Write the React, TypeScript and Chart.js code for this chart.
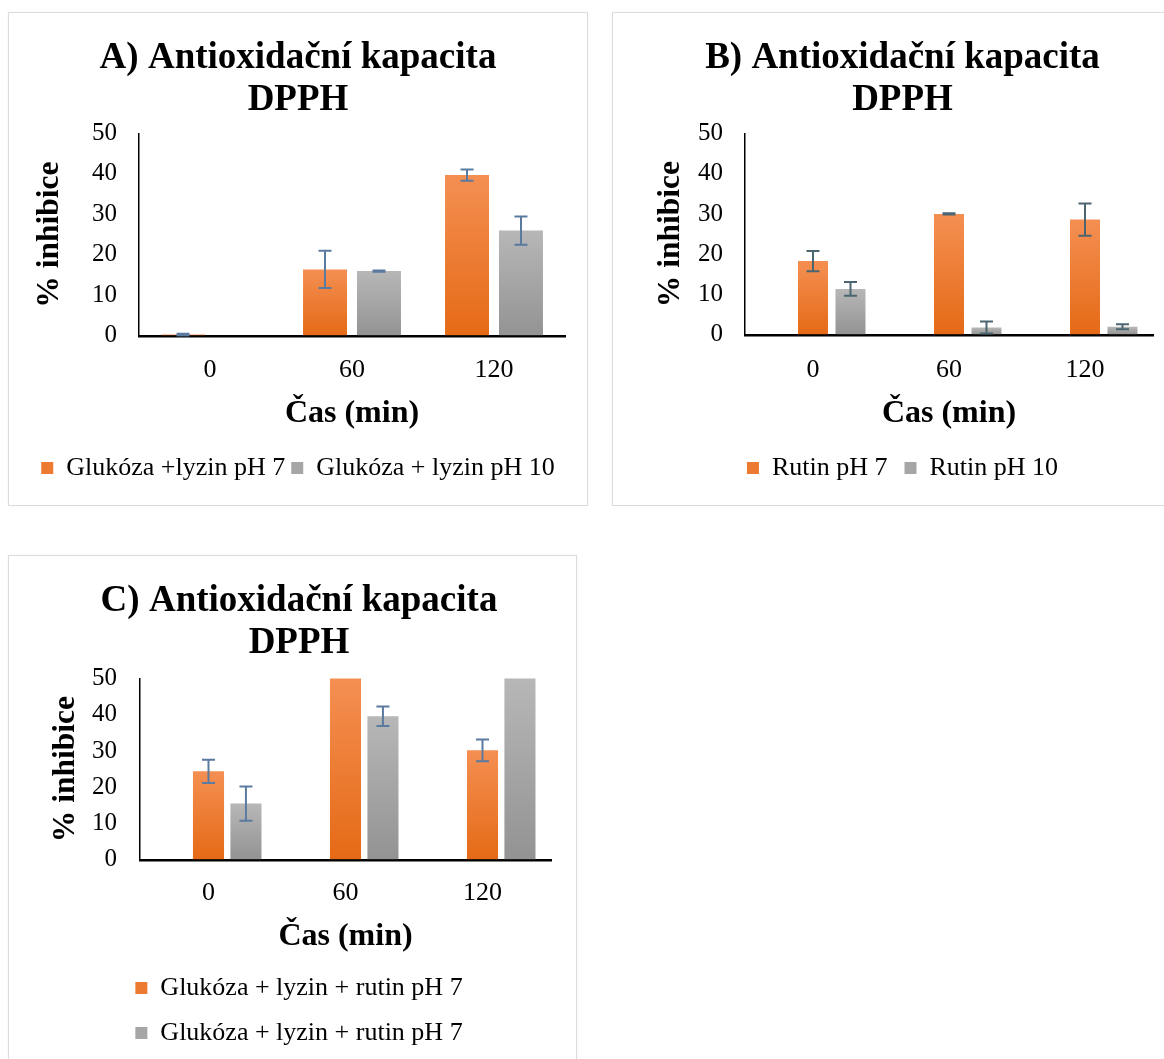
import React, { useEffect, useRef } from 'react';
import { Chart, registerables } from 'chart.js';

Chart.register(...registerables);
Chart.defaults.font.family = '"Liberation Serif", "Times New Roman", serif';
Chart.defaults.color = '#000';

// ---------- data ----------
const timeLabels = ['0', '60', '120'];
const yTickMin = 0;
const yTickMax = 50;
const yTickStep = 10;

// Panel A
const aTitle = ['A) Antioxidační kapacita', 'DPPH'];
const aName1 = 'Glukóza +lyzin pH 7';
const aValues1 = [0.3, 16.4, 39.7];
const aErrors1 = [0.2, 4.6, 1.4];
const aName2 = 'Glukóza + lyzin pH 10';
const aValues2 = [0, 16.0, 26.0];
const aErrors2 = [null, 0.15, 3.5];

// Panel B
const bTitle = ['B) Antioxidační kapacita', 'DPPH'];
const bBlank = [0, 0, 0];
const bName1 = 'Rutin pH 7';
const bValues1 = [18.3, 30.0, 28.6];
const bErrors1 = [2.5, 0.15, 4.0];
const bName2 = 'Rutin pH 10';
const bValues2 = [11.4, 1.8, 2.0];
const bErrors2 = [1.7, 1.5, 0.6];

// Panel C
const cTitle = ['C) Antioxidační kapacita', 'DPPH'];
const cBlank = [0, 0, 0];
const cName1 = 'Glukóza + lyzin + rutin pH 7';
const cValues1 = [24.4, 55, 30.2];
const cErrors1 = [3.2, null, 3.0];
const cName2 = 'Glukóza + lyzin + rutin pH 7';
const cValues2 = [15.5, 39.6, 55];
const cErrors2 = [4.7, 2.7, null];

const xTitle = 'Čas (min)';
const yTitle = '% inhibice';

// ---------- styling helpers ----------
const ORANGE_TOP = '#F48F52';
const ORANGE_BOTTOM = '#E56A16';
const GRAY_TOP = '#B7B7B7';
const GRAY_BOTTOM = '#939393';

function barGradient(c: any, top: string, bottom: string) {
  const chart = c.chart;
  const y = chart.scales && chart.scales.y;
  if (!y || c.type !== 'data') return bottom;
  const v = c.raw as number;
  const y0 = y.getPixelForValue(0);
  const y1 = y.getPixelForValue(Math.min(v, y.max));
  if (!isFinite(y0) || !isFinite(y1) || Math.abs(y0 - y1) < 1) return bottom;
  const g = chart.ctx.createLinearGradient(0, y1, 0, y0);
  g.addColorStop(0, top);
  g.addColorStop(1, bottom);
  return g;
}

function series(label: string, data: number[], errors: (number | null)[], kind: 'orange' | 'gray', errColor: string) {
  const top = kind === 'orange' ? ORANGE_TOP : GRAY_TOP;
  const bottom = kind === 'orange' ? ORANGE_BOTTOM : GRAY_BOTTOM;
  return {
    label,
    data,
    errors,
    errColor,
    legendColor: kind === 'orange' ? '#EC7A30' : '#A6A6A6',
    backgroundColor: (c: any) => barGradient(c, top, bottom),
    borderWidth: 0,
    clip: 0,
  };
}

function blank(data: number[]) {
  return {
    label: '',
    data,
    showInLegend: false,
    backgroundColor: 'rgba(0,0,0,0)',
    borderWidth: 0,
    clip: 0,
  };
}

const errorBarPlugin = {
  id: 'errorBars',
  afterDatasetsDraw(chart: any) {
    const ctx = chart.ctx;
    const y = chart.scales.y;
    const area = chart.chartArea;
    ctx.save();
    ctx.beginPath();
    ctx.rect(area.left, area.top - 1, area.right - area.left, area.bottom - area.top + 2);
    ctx.clip();
    chart.data.datasets.forEach((ds: any, di: number) => {
      if (!ds.errors) return;
      const meta = chart.getDatasetMeta(di);
      meta.data.forEach((bar: any, i: number) => {
        const e = ds.errors[i];
        const v = ds.data[i];
        if (e == null || v == null) return;
        const x = bar.x;
        const yt = y.getPixelForValue(v + e);
        const yb = y.getPixelForValue(Math.max(v - e, 0));
        const cap = 6.5;
        ctx.strokeStyle = ds.errColor;
        ctx.lineWidth = 2;
        ctx.beginPath();
        ctx.moveTo(x, yt);
        ctx.lineTo(x, yb);
        ctx.moveTo(x - cap, yt);
        ctx.lineTo(x + cap, yt);
        ctx.moveTo(x - cap, yb);
        ctx.lineTo(x + cap, yb);
        ctx.stroke();
      });
    });
    ctx.restore();
  },
};

type Spec = {
  left: number;
  top: number;
  width: number;
  height: number;
  title: string[];
  datasets: any[];
  categoryPercentage: number;
  barPercentage: number;
  layoutPadding: { left: number; right: number; top: number; bottom: number };
  titlePadding: { top: number; bottom: number };
  legendPadding: number;
  yTitleGap: number;
  yTickPadding: number;
  xTickPadding: number;
  xTitlePadding: { top: number; bottom: number };
};

function buildConfig(s: Spec): any {
  return {
    type: 'bar',
    data: {
      labels: timeLabels,
      datasets: s.datasets.map((d) => ({ ...d, categoryPercentage: s.categoryPercentage, barPercentage: s.barPercentage })),
    },
    plugins: [errorBarPlugin],
    options: {
      responsive: false,
      animation: false,
      layout: { padding: s.layoutPadding },
      plugins: {
        title: {
          display: true,
          text: s.title,
          color: '#000',
          font: { size: 37, weight: 'bold', lineHeight: 1.13 },
          padding: s.titlePadding,
        },
        legend: {
          display: true,
          position: 'bottom',
          labels: {
            font: { size: 26 },
            color: '#000',
            boxWidth: 12,
            boxHeight: 12,
            padding: s.legendPadding,
            generateLabels: (chart: any) =>
              chart.data.datasets
                .map((ds: any, i: number) => ({ ds, i }))
                .filter(({ ds }: any) => ds.showInLegend !== false)
                .map(({ ds, i }: any) => ({
                  text: ds.label,
                  fillStyle: ds.legendColor,
                  strokeStyle: ds.legendColor,
                  lineWidth: 0,
                  hidden: false,
                  datasetIndex: i,
                  fontColor: '#000',
                })),
          },
        },
        tooltip: { enabled: false },
      },
      scales: {
        x: {
          z: 1,
          grid: { display: true, drawOnChartArea: false, drawTicks: false },
          border: { display: true, color: '#000', width: 2.5 },
          ticks: { font: { size: 26 }, color: '#000', padding: s.xTickPadding },
          title: {
            display: true,
            text: xTitle,
            color: '#000',
            font: { size: 32, weight: 'bold' },
            padding: s.xTitlePadding,
          },
        },
        y: {
          min: yTickMin,
          max: yTickMax,
          grid: { display: true, drawOnChartArea: false, drawTicks: false },
          border: { display: true, color: '#000', width: 1.5 },
          ticks: { stepSize: yTickStep, autoSkip: false, font: { size: 25 }, color: '#000', padding: s.yTickPadding },
          title: {
            display: true,
            text: yTitle,
            color: '#000',
            font: { size: 31.5, weight: 'bold' },
            padding: { top: 0, bottom: s.yTitleGap },
          },
        },
      },
    },
  };
}

const ERR_BLUE = '#5B7AA0';
const ERR_SLATE = '#4B6670';

const specA: Spec = {
  left: 8,
  top: 12,
  width: 580,
  height: 494,
  title: aTitle,
  datasets: [
    series(aName1, aValues1, aErrors1, 'orange', ERR_BLUE),
    series(aName2, aValues2, aErrors2, 'gray', ERR_BLUE),
  ],
  categoryPercentage: 0.76,
  barPercentage: 0.815,
  layoutPadding: { left: 23, right: 23, top: 0, bottom: 15 },
  titlePadding: { top: 25.5, bottom: 12.3 },
  legendPadding: 6,
  yTitleGap: 1.2,
  yTickPadding: 22,
  xTickPadding: 19,
  xTitlePadding: { top: -10.2, bottom: 15.8 },
};

const specB: Spec = {
  left: 612,
  top: 12,
  width: 564,
  height: 494,
  title: bTitle,
  datasets: [
    blank(bBlank),
    series(bName1, bValues1, bErrors1, 'orange', ERR_SLATE),
    series(bName2, bValues2, bErrors2, 'gray', ERR_SLATE),
  ],
  categoryPercentage: 0.827,
  barPercentage: 0.8,
  layoutPadding: { left: 40, right: 23, top: 0, bottom: 15 },
  titlePadding: { top: 25.5, bottom: 12.3 },
  legendPadding: 17,
  yTitleGap: -13.8,
  yTickPadding: 22,
  xTickPadding: 20,
  xTitlePadding: { top: -11.2, bottom: 4.8 },
};

const specC: Spec = {
  left: 8,
  top: 555,
  width: 569,
  height: 520,
  title: cTitle,
  datasets: [
    blank(cBlank),
    series(cName1, cValues1, cErrors1, 'orange', ERR_BLUE),
    series(cName2, cValues2, cErrors2, 'gray', ERR_BLUE),
  ],
  categoryPercentage: 0.82,
  barPercentage: 0.83,
  layoutPadding: { left: 39, right: 26, top: 0, bottom: 19 },
  titlePadding: { top: 25.5, bottom: 14.4 },
  legendPadding: 19,
  yTitleGap: -15.8,
  yTickPadding: 23,
  xTickPadding: 18,
  xTitlePadding: { top: -9.2, bottom: -0.2 },
};

function Panel({ spec }: { spec: Spec }) {
  const ref = useRef<HTMLCanvasElement>(null);
  useEffect(() => {
    if (!ref.current) return;
    const chart = new Chart(ref.current, buildConfig(spec));
    return () => chart.destroy();
  }, [spec]);
  return (
    <div
      style={{
        position: 'absolute',
        left: spec.left,
        top: spec.top,
        width: spec.width,
        height: spec.height,
        background: '#fff',
      }}
    >
      <canvas ref={ref} width={spec.width} height={spec.height} style={{ display: 'block' }} />
      <div
        style={{
          position: 'absolute',
          left: 0,
          top: 0,
          width: spec.width,
          height: spec.height,
          border: '1px solid #dcdcdc',
          boxShadow: '0 0 2px rgba(0,0,0,0.06)',
          boxSizing: 'border-box',
          pointerEvents: 'none',
        }}
      />
    </div>
  );
}

export default function App() {
  return (
    <div
      style={{
        position: 'fixed',
        left: 0,
        top: 0,
        width: 1164,
        height: 1059,
        overflow: 'hidden',
        background: '#fff',
      }}
    >
      <Panel spec={specA} />
      <Panel spec={specB} />
      <Panel spec={specC} />
    </div>
  );
}
